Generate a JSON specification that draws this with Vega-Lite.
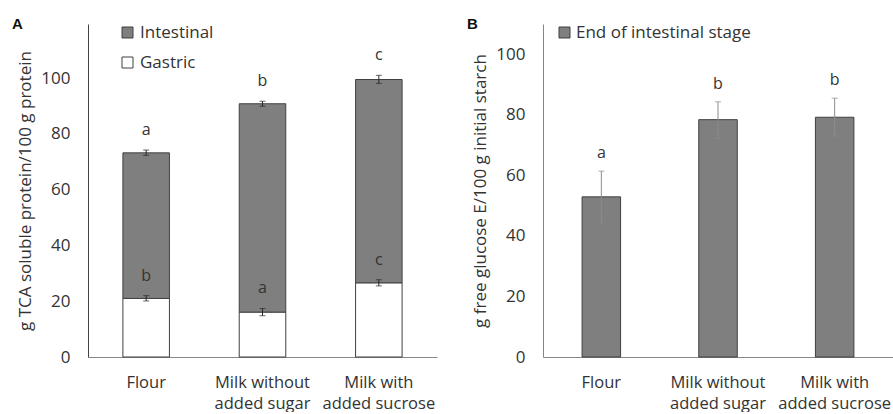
{
  "$schema": "https://vega.github.io/schema/vega-lite/v6.json",
  "padding": {"left": 12, "top": 17, "right": 0, "bottom": 0},
  "background": "white",
  "bounds": "flush",
  "spacing": 106,
  "config": {
    "view": {"stroke": null},
    "font": "Open Sans",
    "axis": {
      "labelFont": "Open Sans", "labelFontSize": 17, "labelColor": "#333333",
      "titleFont": "Open Sans", "titleFontSize": 17, "titleFontWeight": "normal", "titleColor": "#333333",
      "domainColor": "#868686", "domainWidth": 1, "ticks": false, "tickSize": 0, "grid": false
    },
    "legend": {"labelFont": "Open Sans", "labelFontSize": 17, "labelColor": "#333333", "labelLimit": 400}
  },
  "resolve": {"scale": {"color": "independent", "y": "independent"}, "legend": {"color": "independent"}},
  "datasets": {
    "barsA": [
      {"cat": "Flour", "stage": "Gastric", "value": 21.0},
      {"cat": "Flour", "stage": "Intestinal", "value": 52.2},
      {"cat": "Milk without added sugar", "stage": "Gastric", "value": 16.1},
      {"cat": "Milk without added sugar", "stage": "Intestinal", "value": 74.7},
      {"cat": "Milk with added sucrose", "stage": "Gastric", "value": 26.6},
      {"cat": "Milk with added sucrose", "stage": "Intestinal", "value": 72.9}
    ],
    "errA": [
      {"cat": "Flour", "lo": 72.3, "hi": 74.2, "letter": "a"},
      {"cat": "Milk without added sugar", "lo": 89.9, "hi": 91.7, "letter": "b"},
      {"cat": "Milk with added sucrose", "lo": 98.1, "hi": 101.0, "letter": "c"},
      {"cat": "Flour", "lo": 20.1, "hi": 22.0, "letter": "b"},
      {"cat": "Milk without added sugar", "lo": 14.8, "hi": 17.4, "letter": "a"},
      {"cat": "Milk with added sucrose", "lo": 25.5, "hi": 27.7, "letter": "c"}
    ],
    "barsB": [
      {"cat": "Flour", "series": "End of intestinal stage", "value": 52.9, "lo": 44.0, "hi": 61.4, "letter": "a"},
      {"cat": "Milk without added sugar", "series": "End of intestinal stage", "value": 78.4, "lo": 72.2, "hi": 84.3, "letter": "b"},
      {"cat": "Milk with added sucrose", "series": "End of intestinal stage", "value": 79.2, "lo": 73.0, "hi": 85.5, "letter": "b"}
    ]
  },
  "hconcat": [
    {
      "width": 349,
      "height": 333,
      "title": {"text": "A", "anchor": "start", "frame": "group", "fontSize": 15, "fontWeight": "bold", "font": "Liberation Sans", "color": "#111111", "offset": -5, "baseline": "alphabetic", "dx": -76, "dy": 15},
      "encoding": {
        "x": {
          "field": "cat", "type": "nominal", "sort": null, "title": null,
          "scale": {"paddingInner": 0.6, "paddingOuter": 0.3},
          "axis": {"labelAngle": 0, "labelPadding": 17, "labelLineHeight": 21, "labelFontSize": 16.5,
            "labelExpr": "datum.value == 'Flour' ? ['Flour'] : datum.value == 'Milk without added sugar' ? ['Milk without', 'added sugar'] : ['Milk with', 'added sucrose']"}
        }
      },
      "layer": [
        {
          "data": {"name": "barsA"},
          "mark": {"type": "bar", "stroke": "#404040", "strokeWidth": 1},
          "encoding": {
            "y": {"field": "value", "type": "quantitative", "stack": "zero",
              "scale": {"domain": [0, 119.4], "nice": false},
              "title": "g TCA soluble protein/100 g protein",
              "axis": {"values": [0, 20, 40, 60, 80, 100], "labelPadding": 18, "titlePadding": 6, "domainColor": "#444444"}},
            "color": {"field": "stage", "type": "nominal",
              "scale": {"domain": ["Intestinal", "Gastric"], "range": ["#7f7f7f", "#ffffff"]},
              "legend": {"title": null, "orient": "none", "legendX": 31, "legendY": 0, "symbolType": "square", "symbolSize": 121,
                "symbolStrokeColor": "#404040", "symbolStrokeWidth": 1, "labelOffset": 4, "rowPadding": 12, "padding": 0}},
            "order": {"field": "stage", "sort": "ascending"}
          }
        },
        {
          "data": {"name": "errA"},
          "mark": {"type": "errorbar", "ticks": {"size": 6}, "color": "#262626", "thickness": 1},
          "encoding": {
            "y": {"field": "lo", "type": "quantitative", "title": "g TCA soluble protein/100 g protein"},
            "y2": {"field": "hi"}
          }
        },
        {
          "data": {"name": "errA"},
          "mark": {"type": "text", "fontSize": 16, "color": "#333333", "baseline": "middle", "dy": -20},
          "encoding": {
            "y": {"field": "hi", "type": "quantitative", "title": "g TCA soluble protein/100 g protein"},
            "text": {"field": "letter"}
          }
        }
      ]
    },
    {
      "width": 350,
      "height": 333,
      "title": {"text": "B", "anchor": "start", "frame": "group", "fontSize": 15, "fontWeight": "bold", "font": "Liberation Sans", "color": "#111111", "offset": -5, "baseline": "alphabetic", "dx": -76, "dy": 15},
      "data": {"name": "barsB"},
      "encoding": {
        "x": {
          "field": "cat", "type": "nominal", "sort": null, "title": null,
          "scale": {"paddingInner": 0.67, "paddingOuter": 0.335},
          "axis": {"labelAngle": 0, "labelPadding": 17, "labelLineHeight": 21, "labelFontSize": 16.5,
            "labelExpr": "datum.value == 'Flour' ? ['Flour'] : datum.value == 'Milk without added sugar' ? ['Milk without', 'added sugar'] : ['Milk with', 'added sucrose']"}
        }
      },
      "layer": [
        {
          "mark": {"type": "bar", "stroke": "#404040", "strokeWidth": 1},
          "encoding": {
            "y": {"field": "value", "type": "quantitative",
              "scale": {"domain": [0, 110], "nice": false},
              "title": "g free glucose E/100 g initial starch",
              "axis": {"values": [0, 20, 40, 60, 80, 100], "labelPadding": 18, "titlePadding": 6, "domainColor": "#868686"}},
            "color": {"field": "series", "type": "nominal",
              "scale": {"range": ["#7f7f7f"]},
              "legend": {"title": null, "orient": "none", "legendX": 13, "legendY": 0, "symbolType": "square", "symbolSize": 121,
                "symbolStrokeColor": "#404040", "symbolStrokeWidth": 1, "labelOffset": 3, "padding": 0}}
          }
        },
        {
          "mark": {"type": "errorbar", "ticks": {"size": 6}, "color": "#8c8c8c", "thickness": 1},
          "encoding": {
            "y": {"field": "lo", "type": "quantitative", "title": "g free glucose E/100 g initial starch"},
            "y2": {"field": "hi"}
          }
        },
        {
          "mark": {"type": "text", "fontSize": 16, "color": "#333333", "baseline": "middle", "dy": -18},
          "encoding": {
            "y": {"field": "hi", "type": "quantitative", "title": "g free glucose E/100 g initial starch"},
            "text": {"field": "letter"}
          }
        }
      ]
    }
  ]
}
